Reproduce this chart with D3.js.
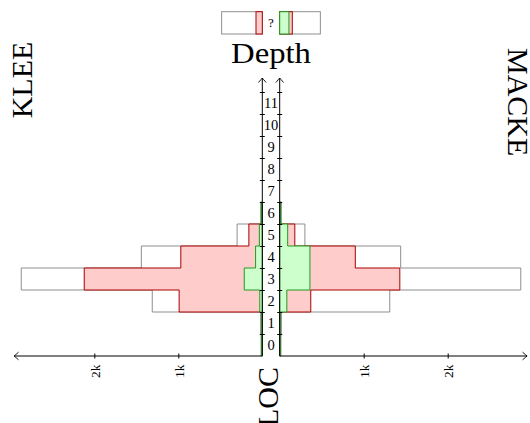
<!DOCTYPE html>
<html>
<head>
<meta charset="utf-8">
<script src="https://cdn.jsdelivr.net/npm/d3@7"></script>
<style>
body { margin: 0; background: #fff; }
svg text { font-family: "Liberation Serif", "DejaVu Serif", serif; fill: #000; }
</style>
</head>
<body>
<div id="chart"></div>
<script>
// DATA
// ----------------------------------------------------------------
var depths = [0, 1, 2, 3, 4, 5, 6, 7, 8, 9, 10, 11];
var totalLoc = [15, 20, 1310, 2870, 1440, 300, 20, 0, 0, 0, 0, 0];      // gray outline, both tools
var kleeRed = [0, 0, 990, 2120, 970, 160, 0, 0, 0, 0, 0, 0];
var kleeGreen = [6, 6, 30, 215, 80, 35, 10, 0, 0, 0, 0, 0];
var mackeRed = [0, 0, 370, 1430, 900, 180, 0, 0, 0, 0, 0, 0];
var mackeGreen = [6, 6, 85, 360, 360, 95, 10, 0, 0, 0, 0, 0];
var locTicks = [1000, 2000];
var locTickLabels = ['1k', '2k'];
// legend row ("?")
var legendTotal = 484;
var legendKleeRed = 75;
var legendMackeGreen = 110;
var legendMackeRed = 150;

var _width = 530,
    _height = 423,
    _rowHeight = 22,
    _yBottom = 356,
    _axisTop = 78,
    _leftZero = 262.3,
    _rightZero = 279.7,
    _pxPerK = 84,
    _gray = '#8f8f8f',
    _redFill = '#ffcccc',
    _redStroke = '#a80000',
    _greenFill = '#ccffcc',
    _greenStroke = '#1f9c1f';

var svg = d3.select('#chart').append('svg')
    .attr('width', _width)
    .attr('height', _height);

var y = d3.scaleLinear().domain([0, 12]).range([_yBottom, _yBottom - 12 * _rowHeight]);
var xL = d3.scaleLinear().domain([0, 1000]).range([_leftZero, _leftZero - _pxPerK]);
var xR = d3.scaleLinear().domain([0, 1000]).range([_rightZero, _rightZero + _pxPerK]);

// arrow head like tikz "->"
svg.append('defs').append('marker')
    .attr('id', 'arrow')
    .attr('viewBox', '-6 -5 8 10')
    .attr('refX', 0)
    .attr('refY', 0)
    .attr('markerWidth', 8)
    .attr('markerHeight', 10)
    .attr('markerUnits', 'userSpaceOnUse')
    .attr('orient', 'auto')
    .append('path')
    .attr('d', 'M-4.5,-3.8 Q-1.2,-1 0,0 Q-1.2,1 -4.5,3.8')
    .attr('fill', 'none')
    .attr('stroke', '#000')
    .attr('stroke-width', 0.9);

// STEP AREAS
// ----------------------------------------------------------------
var stepArea = function (values, x) {
    var last = values.length - 1;
    while (last > 0 && values[last] === 0) { last--; }
    var pts = [];
    for (var i = 0; i <= last; i++) { pts.push({ d: depths[i], v: values[i] }); }
    pts.push({ d: depths[last] + 1, v: values[last] });
    return d3.area()
        .curve(d3.curveStepBefore)
        .y(function (p) { return y(p.d); })
        .x0(x(0))
        .x1(function (p) { return x(p.v); })(pts);
};

var gBars = svg.append('g');

var layers = [
    { values: totalLoc, x: xL, fill: '#fff', stroke: _gray },
    { values: totalLoc, x: xR, fill: '#fff', stroke: _gray },
    { values: kleeRed, x: xL, fill: _redFill, stroke: _redStroke },
    { values: mackeRed, x: xR, fill: _redFill, stroke: _redStroke },
    { values: kleeGreen, x: xL, fill: _greenFill, stroke: _greenStroke },
    { values: mackeGreen, x: xR, fill: _greenFill, stroke: _greenStroke }
];

gBars.selectAll('path')
    .data(layers)
    .enter().append('path')
    .attr('d', function (l) { return stepArea(l.values, l.x); })
    .attr('fill', function (l) { return l.fill; })
    .attr('stroke', function (l) { return l.stroke; })
    .attr('stroke-width', 1);

// LEGEND
// ----------------------------------------------------------------
var ly = d3.scaleLinear().domain([0, 1]).range([34, 11.7]);
var gLegend = svg.append('g');
var legendRects = [
    { x: xL, v: legendTotal, fill: '#fff', stroke: _gray },
    { x: xR, v: legendTotal, fill: '#fff', stroke: _gray },
    { x: xL, v: legendKleeRed, fill: _redFill, stroke: _redStroke },
    { x: xR, v: legendMackeRed, fill: _redFill, stroke: _redStroke },
    { x: xR, v: legendMackeGreen, fill: _greenFill, stroke: _greenStroke }
];
gLegend.selectAll('rect')
    .data(legendRects)
    .enter().append('rect')
    .attr('x', function (d) { return Math.min(d.x(0), d.x(d.v)); })
    .attr('y', ly(1))
    .attr('width', function (d) { return Math.abs(d.x(d.v) - d.x(0)); })
    .attr('height', ly(0) - ly(1))
    .attr('fill', function (d) { return d.fill; })
    .attr('stroke', function (d) { return d.stroke; })
    .attr('stroke-width', 1);
gLegend.append('text')
    .attr('x', (_leftZero + _rightZero) / 2)
    .attr('y', ly(0.5))
    .attr('dy', '0.35em')
    .attr('text-anchor', 'middle')
    .style('font-size', '13px')
    .text('?');

// AXES
// ----------------------------------------------------------------
var gAxes = svg.append('g');

// bottom LOC axes
gAxes.append('line')
    .attr('x1', xL(0)).attr('x2', xL(2955))
    .attr('y1', _yBottom).attr('y2', _yBottom)
    .attr('stroke', '#000').attr('stroke-width', 1)
    .attr('marker-end', 'url(#arrow)');
gAxes.append('line')
    .attr('x1', xR(0)).attr('x2', xR(2945))
    .attr('y1', _yBottom).attr('y2', _yBottom)
    .attr('stroke', '#000').attr('stroke-width', 1)
    .attr('marker-end', 'url(#arrow)');

[xL, xR].forEach(function (x) {
    var g = gAxes.append('g')
        .attr('transform', 'translate(0,' + _yBottom + ')')
        .call(d3.axisBottom(x)
            .tickValues(locTicks)
            .tickSize(2.5)
            .tickFormat(function (d, i) { return locTickLabels[i]; }));
    g.select('.domain').remove();
    g.attr('font-family', null).attr('font-size', null);
    g.selectAll('.tick line').attr('y1', -2.5).attr('stroke-width', 1);
    g.selectAll('.tick text')
        .attr('transform', 'rotate(-90)')
        .attr('x', -8.5)
        .attr('y', 0)
        .attr('dy', '0.35em')
        .style('text-anchor', 'end')
        .style('font-size', '13.5px');
});

// vertical depth axes
[_leftZero, _rightZero].forEach(function (x0) {
    gAxes.append('line')
        .attr('x1', x0).attr('x2', x0)
        .attr('y1', _yBottom).attr('y2', _axisTop)
        .attr('stroke', '#000').attr('stroke-width', 1)
        .attr('marker-end', 'url(#arrow)');
    var g = gAxes.append('g')
        .attr('transform', 'translate(' + x0 + ',0)')
        .call(d3.axisLeft(y).tickValues(d3.range(1, 13)).tickSize(2.5).tickFormat(''));
    g.select('.domain').remove();
    g.selectAll('.tick line').attr('x1', 2.5).attr('stroke-width', 1);
});

// depth labels
gAxes.selectAll('.depth-label')
    .data(depths)
    .enter().append('text')
    .attr('class', 'depth-label')
    .attr('x', (_leftZero + _rightZero) / 2)
    .attr('y', function (d) { return y(d + 0.5); })
    .attr('dy', '0.35em')
    .attr('text-anchor', 'middle')
    .style('font-size', '14.5px')
    .text(function (d) { return d; });

// TITLES
// ----------------------------------------------------------------
svg.append('text')
    .attr('x', (_leftZero + _rightZero) / 2)
    .attr('y', 63)
    .attr('text-anchor', 'middle')
    .attr('textLength', 80)
    .attr('lengthAdjust', 'spacingAndGlyphs')
    .style('font-size', '30px')
    .text('Depth');

svg.append('text')
    .attr('transform', 'translate(31.5,80) rotate(-90)')
    .attr('text-anchor', 'middle')
    .style('font-size', '30px')
    .text('KLEE');

svg.append('text')
    .attr('transform', 'translate(508,48) rotate(90)')
    .attr('text-anchor', 'start')
    .style('font-size', '30px')
    .text('MACKE');

svg.append('text')
    .attr('transform', 'translate(277.5,367) rotate(-90)')
    .attr('text-anchor', 'end')
    .style('font-size', '30px')
    .text('LOC');
</script>
</body>
</html>
